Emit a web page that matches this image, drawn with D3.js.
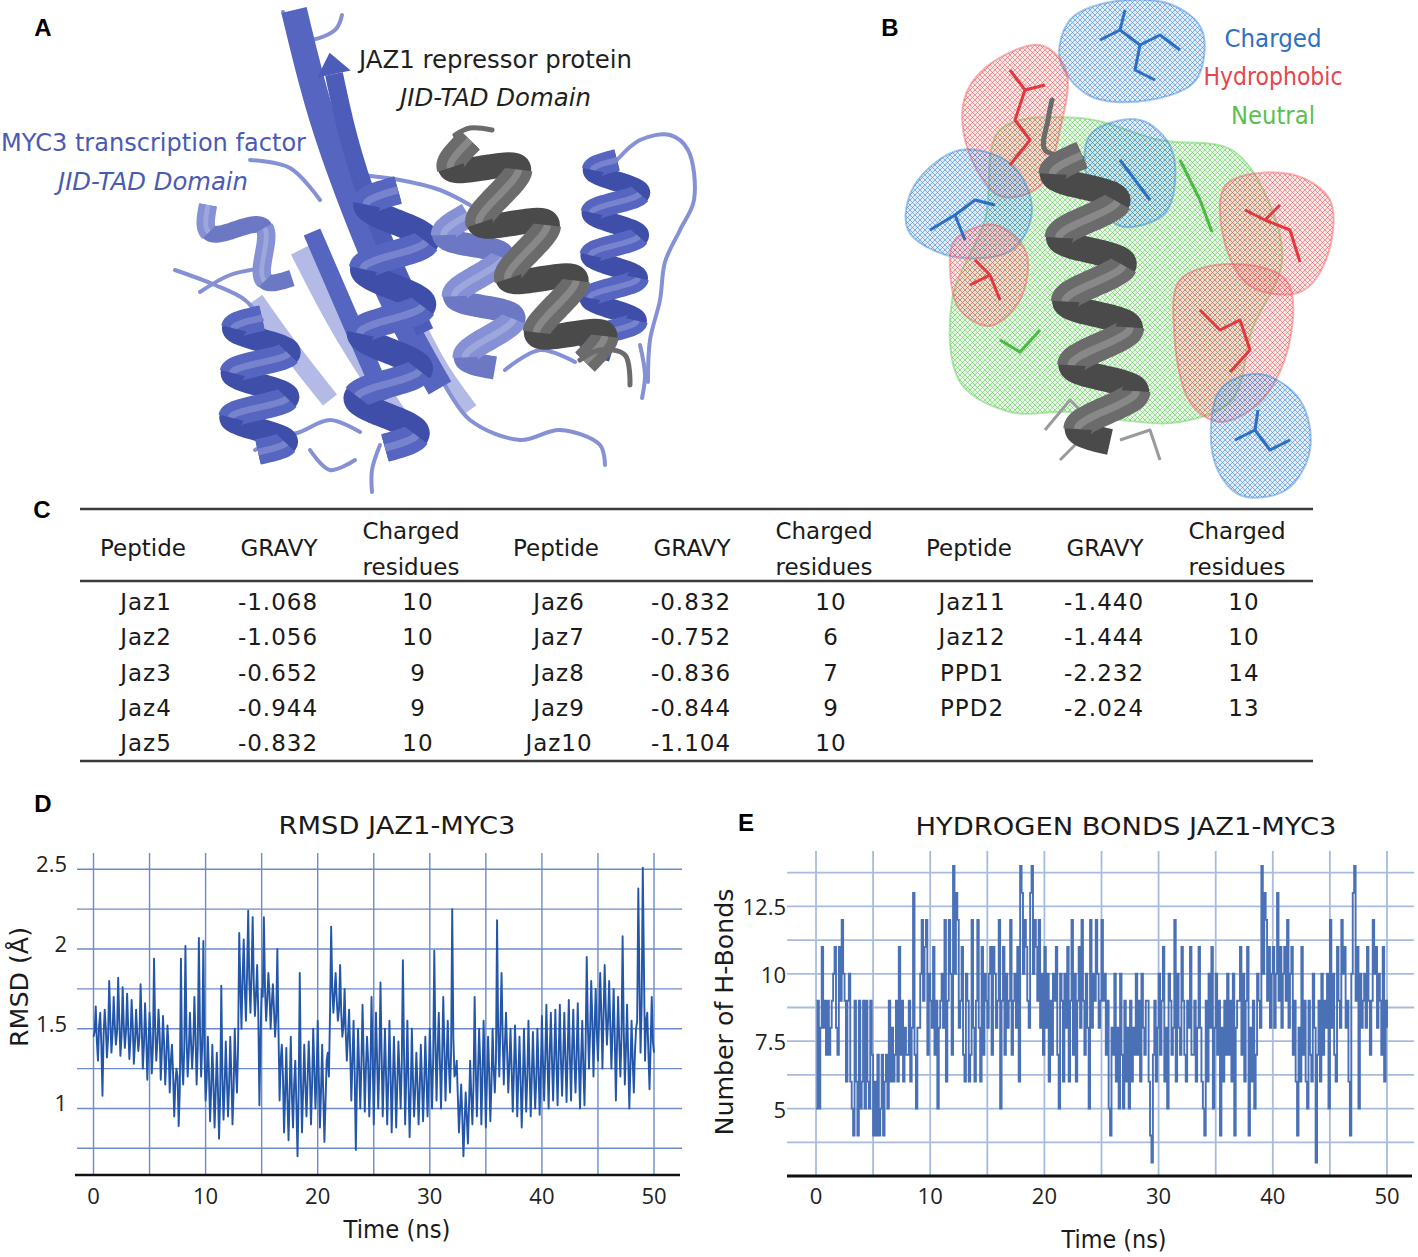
<!DOCTYPE html>
<html>
<head>
<meta charset="utf-8">
<script src="https://cdn.jsdelivr.net/npm/d3@7/dist/d3.min.js"></script>
<style>
  body { margin: 0; background: #fff; }
  svg { display: block; }
</style>
</head>
<body>
<div id="fig"></div>
<script>
// ---- data ----
// RMSD (Å): swing values every 0.2 ns, and the band core read half a step later
const rmsdStep = 0.2;
const rmsdValues = [
  1.45, 1.64, 1.30, 1.60, 1.08,  1.62, 1.32, 1.80, 1.35, 1.70,
  1.40, 1.82, 1.33, 1.76, 1.38,  1.72, 1.31, 1.68, 1.28, 1.62,
  1.36, 1.78, 1.25, 1.66, 1.18,  1.60, 1.22, 1.94, 1.30, 1.62,
  1.18, 1.58, 1.15, 1.52, 1.10,  1.40, 0.95, 1.25, 0.89, 1.94,
  1.15, 2.02, 1.20, 1.60, 1.25,  1.70, 1.15, 2.07, 1.20, 2.05,
  1.05, 1.45, 0.92, 1.40, 0.88,  1.35, 0.81, 1.77, 0.93, 1.42,
  0.95, 1.45, 0.90, 1.50, 1.10,  2.10, 1.50, 2.06, 1.55, 2.24,
  1.60, 2.20, 1.58, 1.90, 1.02,  1.75, 2.20, 1.55, 1.85, 1.50,
  1.78, 1.45, 2.00, 1.05, 1.40,  0.85, 1.38, 0.80, 1.45, 0.88,
  1.30, 0.70, 1.85, 0.85, 1.40,  0.95, 1.42, 0.90, 1.50, 1.00,
  1.55, 0.88, 1.40, 0.79, 1.30,  1.20, 2.14, 1.60, 1.85, 1.55,
  1.90, 1.45, 1.75, 1.30, 1.62,  1.05, 1.55, 0.74, 1.50, 1.00,
  1.65, 0.98, 1.45, 0.95, 1.70,  0.90, 1.60, 1.00, 1.79, 0.95,
  1.50, 0.90, 1.55, 0.85, 1.45,  0.88, 1.42, 1.00, 1.93, 0.90,
  1.55, 0.82, 1.50, 0.95, 1.35,  0.90, 1.40, 0.92, 1.45, 0.95,
  1.50, 1.00, 1.99, 1.05, 1.60,  1.00, 1.70, 1.05, 1.55, 1.10,
  2.25, 1.20, 1.30, 0.85, 1.15,  0.70, 1.10, 0.78, 1.30, 0.90,
  1.70, 0.95, 1.50, 0.90, 1.55,  0.88, 1.45, 0.92, 1.50, 1.10,
  2.18, 1.20, 1.85, 1.15, 1.60,  1.10, 1.50, 0.98, 1.52, 0.95,
  1.45, 0.88, 1.50, 0.98, 1.55,  0.95, 1.48, 1.00, 1.50, 0.96,
  1.58, 1.05, 1.65, 1.00, 1.60,  1.05, 1.62, 1.02, 1.65, 1.08,
  1.60, 1.04, 1.68, 1.05, 1.62,  1.10, 1.66, 1.00, 1.55, 1.02,
  1.95, 1.25, 1.80, 1.20, 1.75,  1.30, 1.85, 1.25, 1.90, 1.40,
  1.80, 1.25, 1.75, 1.05, 1.70,  1.20, 2.08, 1.15, 1.65, 1.00,
  1.55, 1.10, 1.50, 2.38, 1.35,  2.51, 1.30, 1.60, 1.12, 1.70,
  1.35
];
const rmsdCore = [
  1.48, 1.42, 1.52, 1.40, 1.46,  1.50, 1.44, 1.55, 1.47, 1.52,
  1.48, 1.56, 1.45, 1.52, 1.49,  1.50, 1.44, 1.52, 1.41, 1.47,
  1.45, 1.52, 1.40, 1.46, 1.38,  1.44, 1.38, 1.50, 1.42, 1.47,
  1.36, 1.40, 1.32, 1.38, 1.30,  1.22, 1.15, 1.20, 1.12, 1.30,
  1.38, 1.45, 1.35, 1.42, 1.40,  1.45, 1.38, 1.50, 1.40, 1.35,
  1.18, 1.22, 1.12, 1.16, 1.10,  1.12, 1.08, 1.20, 1.14, 1.18,
  1.15, 1.20, 1.12, 1.25, 1.40,  1.78, 1.82, 1.75, 1.85, 1.80,
  1.85, 1.78, 1.72, 1.60, 1.45,  1.70, 1.75, 1.68, 1.72, 1.65,
  1.62, 1.58, 1.50, 1.30, 1.20,  1.10, 1.05, 1.12, 1.08, 1.15,
  1.02, 1.10, 1.18, 1.12, 1.15,  1.18, 1.22, 1.15, 1.25, 1.20,
  1.20, 1.12, 1.08, 1.05, 1.35,  1.60, 1.75, 1.72, 1.68, 1.62,
  1.60, 1.52, 1.48, 1.45, 1.35,  1.30, 1.22, 1.15, 1.25, 1.28,
  1.32, 1.25, 1.30, 1.22, 1.35,  1.25, 1.30, 1.28, 1.35, 1.22,
  1.20, 1.18, 1.22, 1.15, 1.20,  1.15, 1.22, 1.28, 1.35, 1.20,
  1.15, 1.10, 1.18, 1.12, 1.15,  1.12, 1.18, 1.15, 1.20, 1.18,
  1.25, 1.30, 1.42, 1.35, 1.30,  1.32, 1.38, 1.30, 1.28, 1.35,
  1.45, 1.22, 1.08, 1.00, 0.95,  0.90, 0.95, 1.02, 1.08, 1.15,
  1.25, 1.22, 1.28, 1.20, 1.25,  1.18, 1.22, 1.15, 1.25, 1.30,
  1.48, 1.52, 1.45, 1.40, 1.35,  1.28, 1.25, 1.22, 1.28, 1.20,
  1.18, 1.15, 1.22, 1.20, 1.25,  1.20, 1.22, 1.18, 1.25, 1.22,
  1.28, 1.32, 1.30, 1.35, 1.30,  1.32, 1.28, 1.35, 1.30, 1.32,
  1.30, 1.35, 1.32, 1.38, 1.30,  1.35, 1.28, 1.32, 1.25, 1.40,
  1.52, 1.48, 1.55, 1.50, 1.48,  1.55, 1.60, 1.58, 1.62, 1.55,
  1.52, 1.48, 1.45, 1.40, 1.42,  1.45, 1.50, 1.38, 1.32, 1.28,
  1.30, 1.35, 1.55, 1.80, 1.65,  1.90, 1.55, 1.35, 1.40, 1.42
];

// number of H-bonds sampled every 0.125 ns
const hbondStep = 0.125;
const hbondValues = [
  5, 9, 5, 8, 11, 8, 9, 7,     9, 7, 8, 9, 10, 11, 8, 7,
  11, 9, 12, 10, 9, 6, 9, 10,  6, 5, 4, 9, 6, 4, 9, 5,
  6, 9, 5, 9, 6, 5, 9, 7,      4, 6, 4, 7, 4, 5, 7, 4,
  6, 7, 5, 9, 6, 8, 6, 7,      9, 6, 11, 7, 9, 6, 8, 7,
  7, 9, 6, 8, 13, 7, 5, 8,     8, 10, 12, 9, 11, 12, 7, 10,
  9, 8, 11, 7, 9, 5, 8, 9,     10, 8, 12, 6, 9, 12, 10, 7,
  14, 10, 13, 12, 8, 9, 11, 7, 6, 10, 9, 6, 7, 12, 8, 6,
  9, 12, 8, 6, 11, 7, 10, 9,   8, 10, 11, 7, 11, 10, 8, 9,
  12, 5, 9, 11, 7, 10, 8, 9,   12, 7, 9, 10, 8, 11, 6, 14,
  13, 10, 12, 11, 9, 8, 13, 14, 10, 12, 11, 9, 12, 8, 10, 7,
  11, 8, 10, 6, 9, 7, 10, 9,   11, 7, 5, 10, 9, 6, 10, 8,
  11, 6, 9, 12, 7, 10, 6, 9,   11, 8, 12, 9, 7, 10, 8, 5,
  12, 8, 10, 9, 12, 10, 8, 9,  12, 9, 10, 7, 9, 5, 4, 8,
  7, 10, 6, 8, 5, 10, 7, 5,    9, 6, 8, 5, 9, 6, 8, 7,
  10, 7, 9, 6, 10, 8, 7, 9,    9, 6, 4, 3, 7, 9, 6, 8,
  10, 7, 9, 11, 6, 8, 5, 10,   9, 7, 8, 12, 6, 10, 8, 7,
  11, 9, 7, 6, 9, 8, 11, 7,    7, 9, 6, 8, 11, 8, 6, 5,
  4, 9, 6, 10, 8, 11, 5, 8,    10, 7, 9, 4, 8, 6, 9, 7,
  10, 7, 9, 6, 10, 4, 8, 9,    9, 11, 7, 10, 6, 9, 11, 4,
  8, 6, 9, 5, 7, 10, 9, 8,     14, 10, 13, 12, 9, 11, 8, 10,
  11, 8, 10, 13, 9, 11, 8, 10, 11, 9, 12, 8, 10, 11, 7, 9,
  6, 4, 8, 6, 11, 7, 9, 6,     5, 9, 7, 6, 10, 8, 3, 7,
  9, 6, 10, 7, 9, 8, 10, 5,    12, 8, 10, 7, 6, 11, 9, 8,
  12, 10, 11, 8, 9, 6, 4, 10,  13, 14, 9, 11, 5, 10, 8, 9,
  10, 8, 11, 9, 7, 9, 12, 10,  11, 8, 10, 9, 7, 11, 6, 9,
  8
];

const timeTicks = [0, 10, 20, 30, 40, 50];
const timeGrid = [0, 5, 10, 15, 20, 25, 30, 35, 40, 45, 50];
const rmsdTicks = [1, 1.5, 2, 2.5];
const rmsdGrid = [0.75, 1, 1.25, 1.5, 1.75, 2, 2.25, 2.5];
const hbondTicks = [5, 7.5, 10, 12.5];
const hbondGrid = [3.75, 5, 6.25, 7.5, 8.75, 10, 11.25, 12.5, 13.75];

// table C
const peptides = ['Jaz1', 'Jaz2', 'Jaz3', 'Jaz4', 'Jaz5', 'Jaz6', 'Jaz7', 'Jaz8', 'Jaz9', 'Jaz10', 'Jaz11', 'Jaz12', 'PPD1', 'PPD2'];
const gravy = [-1.068, -1.056, -0.652, -0.944, -0.832, -0.832, -0.752, -0.836, -0.844, -1.104, -1.440, -1.444, -2.232, -2.024];
const charged = [10, 10, 9, 9, 10, 10, 6, 7, 9, 10, 10, 10, 14, 13];
const headerLabels = ['Peptide', 'GRAVY', 'Charged residues'];

// panel B legend
const legendLabels = ['Charged', 'Hydrophobic', 'Neutral'];
const legendColors = ['#2f6fc0', '#e3474c', '#5cbf4f'];

// ---- setup ----
const W = 1418, H = 1257;
const svg = d3.select('#fig').append('svg')
  .attr('width', W)
  .attr('height', H)
  .attr('viewBox', `0 0 ${W} ${H}`);

svg.append('rect').attr('width', W).attr('height', H).attr('fill', '#fff');
const defs = svg.append('defs');

const titleFont = '"DejaVu Sans", sans-serif';
const tickFont = '"Open Sans", "Noto Sans", sans-serif';

// ---- helpers for the structure sketches ----
function drawHelix(g, p0, p1, w, turns, col, dark) {
  const dx = p1[0] - p0[0], dy = p1[1] - p0[1];
  const L = Math.hypot(dx, dy);
  const nx = -dy / L, ny = dx / L;
  const n = Math.round(turns * 36);
  const pts = d3.range(n + 1).map(i => {
    const t = i / n, ph = 2 * Math.PI * turns * t;
    const off = (w / 2) * Math.sin(ph);
    return { x: p0[0] + dx * t + nx * off, y: p0[1] + dy * t + ny * off, front: Math.cos(ph) > 0 };
  });
  const line = d3.line().x(d => d.x).y(d => d.y).curve(d3.curveCatmullRom);
  g.append('path').attr('d', line(pts)).attr('fill', 'none')
    .attr('stroke', dark).attr('stroke-width', w * 0.42);
  let seg = [];
  pts.forEach((p, i) => {
    if (p.front) seg.push(p);
    if ((!p.front || i === pts.length - 1) && seg.length > 1) {
      g.append('path').attr('d', line(seg)).attr('fill', 'none')
        .attr('stroke', col).attr('stroke-width', w * 0.46);
      g.append('path').attr('d', line(seg)).attr('fill', 'none')
        .attr('stroke', '#fff').attr('stroke-opacity', 0.2).attr('stroke-width', w * 0.12);
      seg = [];
    } else if (!p.front) seg = [];
  });
}

function drawStrand(g, pts, w, col, head) {
  const line = d3.line().curve(d3.curveBasis);
  g.append('path').attr('d', line(pts)).attr('fill', 'none')
    .attr('stroke', col).attr('stroke-width', w).attr('stroke-linecap', 'butt');
  if (head) {
    const a = pts[0], b = pts[1];
    const L = Math.hypot(a[0] - b[0], a[1] - b[1]);
    const ux = (a[0] - b[0]) / L, uy = (a[1] - b[1]) / L, nx = -uy, ny = ux;
    const hw = w * 0.95, hl = w * 1.2;
    g.append('path')
      .attr('d', `M${a[0] + nx * hw},${a[1] + ny * hw} L${a[0] + ux * hl},${a[1] + uy * hl} L${a[0] - nx * hw},${a[1] - ny * hw} Z`)
      .attr('fill', col);
  }
}

function drawLoop(g, pts, col, w) {
  g.append('path').attr('d', d3.line().curve(d3.curveCatmullRom)(pts))
    .attr('fill', 'none').attr('stroke', col).attr('stroke-width', w)
    .attr('stroke-linecap', 'round').attr('stroke-linejoin', 'round');
}

// ---- panel A: cartoon sketch ----
const blue = '#5565c0', blueDark = '#3f4ea8', blueLight = '#8591d4', bluePale = '#b4bae6';
const grey = '#6b6b6b', greyDark = '#4a4a4a';
const pa = svg.append('g');

drawStrand(pa, [[300, 250], [340, 330], [400, 420]], 20, bluePale, false);
drawStrand(pa, [[255, 300], [290, 350], [330, 400]], 18, bluePale, false);
drawStrand(pa, [[420, 330], [440, 370], [470, 410]], 16, bluePale, false);

[
  [[283, 12], [300, 40], [335, 30], [342, 15]],
  [[175, 270], [215, 285], [245, 300], [262, 320]],
  [[200, 292], [230, 275], [262, 268]],
  [[250, 160], [290, 168], [320, 200]],
  [[360, 175], [400, 180], [440, 190], [470, 205]],
  [[617, 160], [640, 140], [670, 135], [688, 150], [694, 200], [680, 230], [665, 262], [660, 300], [650, 340], [648, 382]],
  [[445, 385], [470, 420], [520, 440], [560, 430], [600, 445], [605, 465]],
  [[505, 370], [540, 350], [575, 362]],
  [[380, 445], [372, 470], [372, 492]],
  [[255, 450], [275, 440], [300, 432], [330, 420], [360, 432]],
  [[640, 345], [645, 375], [642, 398]],
  [[310, 450], [330, 470], [355, 460]]
].forEach(p => drawLoop(pa, p, blueLight, 4));

drawHelix(pa, [208, 205], [292, 278], 40, 1.5, blueLight, '#6c78c4');
drawHelix(pa, [262, 318], [258, 452], 56, 3, blue, blueDark);
drawStrand(pa, [[294, 10], [318, 110], [350, 200], [395, 310], [440, 388]], 26, blue, false);
drawStrand(pa, [[334, 74], [350, 150], [382, 240], [425, 332]], 18, '#4c5cb8', true);
drawStrand(pa, [[312, 232], [350, 320], [385, 400]], 18, blue, false);
drawHelix(pa, [398, 190], [385, 448], 62, 4, blue, blueDark);
drawHelix(pa, [468, 215], [495, 368], 55, 2.5, blueLight, '#6c78c4');
drawHelix(pa, [617, 160], [612, 352], 48, 4.5, blue, blueDark);
drawHelix(pa, [470, 140], [585, 362], 60, 4, grey, greyDark);
drawLoop(pa, [[455, 135], [470, 128], [492, 130]], grey, 5);
drawLoop(pa, [[580, 360], [600, 350], [625, 355], [630, 385]], grey, 5);

const textA = [
  { t: 'JAZ1 repressor protein', x: 359, y: 60, len: 273, col: '#1f1f1f', it: false },
  { t: 'JID-TAD Domain', x: 400, y: 98, len: 191, col: '#1f1f1f', it: true },
  { t: 'MYC3 transcription factor', x: 1, y: 143, len: 305, col: '#4a5ab4', it: false },
  { t: 'JID-TAD Domain', x: 58, y: 182, len: 190, col: '#4a5ab4', it: true }
];
svg.selectAll('text.lblA')
  .data(textA)
  .join('text')
  .attr('class', 'lblA')
  .attr('x', d => d.x)
  .attr('y', d => d.y)
  .attr('dominant-baseline', 'central')
  .attr('font-family', titleFont)
  .attr('font-size', 24)
  .attr('font-style', d => d.it ? 'italic' : 'normal')
  .attr('fill', d => d.col)
  .attr('textLength', d => d.len)
  .attr('lengthAdjust', 'spacingAndGlyphs')
  .text(d => d.t);

// ---- panel B: surface mesh sketch ----
const meshCols = { blue: '#3a86d8', red: '#ee5a5f', green: '#5fcc55' };
Object.entries(meshCols).forEach(([k, c]) => {
  const p = defs.append('pattern').attr('id', `mesh-${k}`)
    .attr('width', 5).attr('height', 5).attr('patternUnits', 'userSpaceOnUse');
  p.append('rect').attr('width', 5).attr('height', 5).attr('fill', c).attr('fill-opacity', 0.15);
  p.append('path').attr('d', 'M0,0 L5,5 M5,0 L0,5').attr('stroke', c).attr('stroke-width', 0.8).attr('stroke-opacity', 0.75);
});

const blobs = [
  ['green', [[1000, 130], [1080, 118], [1160, 140], [1232, 150], [1268, 200], [1282, 262], [1252, 330], [1232, 400], [1180, 422], [1120, 420], [1070, 412], [1010, 412], [960, 382], [952, 300], [985, 220]]],
  ['blue', [[1090, 135], [1140, 120], [1172, 150], [1166, 212], [1120, 226], [1090, 190]]],
  ['blue', [[1070, 20], [1110, 2], [1170, 4], [1202, 30], [1196, 80], [1150, 100], [1090, 96], [1060, 60]]],
  ['red', [[985, 68], [1040, 45], [1066, 70], [1060, 130], [1040, 186], [1000, 196], [968, 150], [964, 100]]],
  ['blue', [[914, 186], [960, 150], [1012, 165], [1032, 210], [1012, 250], [950, 256], [908, 230]]],
  ['red', [[955, 240], [995, 225], [1026, 252], [1020, 300], [990, 326], [960, 310], [950, 270]]],
  ['red', [[1226, 185], [1290, 174], [1330, 200], [1326, 260], [1300, 292], [1250, 286], [1224, 240]]],
  ['red', [[1180, 280], [1230, 264], [1286, 280], [1290, 340], [1262, 400], [1220, 422], [1190, 402], [1174, 330]]],
  ['blue', [[1220, 390], [1260, 374], [1300, 400], [1310, 450], [1286, 490], [1240, 495], [1214, 460]]]
];
const pb = svg.append('g');
const closed = d3.line().curve(d3.curveCatmullRomClosed);
blobs.forEach(([k, pts]) => {
  pb.append('path').attr('d', closed(pts))
    .attr('fill', `url(#mesh-${k})`)
    .attr('stroke', meshCols[k]).attr('stroke-opacity', 0.45).attr('stroke-width', 2);
});

const sticks = [
  ['#2d6fc4', [[1100, 40], [1120, 30], [1140, 45], [1160, 35], [1180, 50]]],
  ['#2d6fc4', [[1120, 30], [1125, 10]]],
  ['#2d6fc4', [[1140, 45], [1135, 70], [1155, 80]]],
  ['#e0393f', [[1010, 70], [1025, 90], [1015, 120], [1030, 140], [1010, 165]]],
  ['#e0393f', [[1025, 90], [1045, 85]]],
  ['#2d6fc4', [[930, 230], [955, 215], [975, 200], [995, 205]]],
  ['#2d6fc4', [[955, 215], [965, 240]]],
  ['#2d6fc4', [[1120, 160], [1135, 180], [1150, 200]]],
  ['#e0393f', [[975, 260], [990, 275], [1000, 300]]],
  ['#e0393f', [[990, 275], [970, 285]]],
  ['#e0393f', [[1245, 210], [1265, 220], [1290, 230], [1300, 262]]],
  ['#e0393f', [[1265, 220], [1280, 205]]],
  ['#e0393f', [[1200, 310], [1220, 330], [1240, 320], [1250, 350], [1230, 372]]],
  ['#2d6fc4', [[1235, 440], [1255, 430], [1270, 450], [1290, 440]]],
  ['#2d6fc4', [[1255, 430], [1258, 410]]],
  ['#4cb845', [[1000, 340], [1020, 352], [1040, 330]]],
  ['#4cb845', [[1180, 160], [1200, 200], [1212, 232]]],
  ['#9a9a9a', [[1045, 430], [1070, 400], [1090, 420], [1120, 410]]],
  ['#9a9a9a', [[1060, 460], [1080, 440]]],
  ['#9a9a9a', [[1120, 440], [1150, 430], [1160, 460]]]
];
sticks.forEach(([c, pts]) => {
  pb.append('path').attr('d', d3.line()(pts)).attr('fill', 'none')
    .attr('stroke', c).attr('stroke-width', 3).attr('stroke-linejoin', 'round');
});
drawLoop(pb, [[1082, 158], [1045, 150], [1048, 120], [1052, 100]], grey, 5);
drawHelix(pb, [1082, 155], [1110, 442], 62, 4.5, grey, greyDark);

svg.selectAll('text.legB')
  .data(legendLabels)
  .join('text')
  .attr('class', 'legB')
  .attr('x', 1273)
  .attr('y', (d, i) => 38 + i * 38.5)
  .attr('text-anchor', 'middle')
  .attr('dominant-baseline', 'central')
  .attr('font-family', titleFont)
  .attr('font-size', 25)
  .attr('fill', (d, i) => legendColors[i])
  .attr('textLength', (d, i) => [97, 139, 84][i])
  .attr('lengthAdjust', 'spacingAndGlyphs')
  .text(d => d);

// panel letters (on top of the sketches)
const panelLetters = [['A', 43, 27], ['B', 890, 27], ['C', 42, 509], ['D', 43, 803], ['E', 746, 822]];
svg.selectAll('text.panel')
  .data(panelLetters)
  .join('text')
  .attr('class', 'panel')
  .attr('x', d => d[1])
  .attr('y', d => d[2])
  .attr('text-anchor', 'middle')
  .attr('dominant-baseline', 'central')
  .attr('font-family', '"Liberation Sans", Arial, sans-serif')
  .attr('font-weight', 'bold')
  .attr('font-size', 24)
  .attr('fill', '#000')
  .text(d => d[0]);

// ---- panel C: table ----
const tbl = svg.append('g').attr('font-family', titleFont).attr('fill', '#1a1a1a');
const groupX = d3.scaleLinear().domain([0, 2]).range([0, 826]);
const rowY = d3.scaleLinear().domain([0, 4]).range([602, 743]);
const dataCol = [146, 278, 418];
const headCol = [143, 279, 411];
const fmt = d3.formatLocale({ decimal: '.', thousands: ',', grouping: [3], currency: ['', ''], minus: '-' }).format('.3f');

[509, 581, 761].forEach(y => {
  tbl.append('line').attr('x1', 80).attr('x2', 1313).attr('y1', y).attr('y2', y)
    .attr('stroke', '#3a3a3a').attr('stroke-width', 2.5);
});

d3.range(3).forEach(g => {
  headerLabels.forEach((h, c) => {
    const parts = h === 'Charged residues' ? ['Charged', 'residues'] : [h];
    parts.forEach((p, k) => {
      tbl.append('text')
        .attr('x', groupX(g) + headCol[c])
        .attr('y', parts.length === 1 ? 548 : (k === 0 ? 531 : 567))
        .attr('text-anchor', 'middle')
        .attr('dominant-baseline', 'central')
        .attr('font-size', 23)
        .text(p);
    });
  });
});

peptides.forEach((p, i) => {
  const g = Math.floor(i / 5), r = i % 5;
  const cells = [p, fmt(gravy[i]), String(charged[i])];
  cells.forEach((t, c) => {
    tbl.append('text')
      .attr('x', groupX(g) + dataCol[c])
      .attr('y', rowY(r))
      .attr('text-anchor', 'middle')
      .attr('dominant-baseline', 'central')
      .attr('font-size', 23)
      .attr('letter-spacing', 1)
      .text(t);
  });
});

// ---- panel D: RMSD ----
const xD = d3.scaleLinear().domain([0, 50]).range([93.5, 654]);
const yD = d3.scaleLinear().domain([0.75, 2.5]).range([1148.3, 869.3]);
const dTop = 853, dBottom = 1175;
const gD = svg.append('g');

// swing and core readings merged in time order
const rmsdSeries = [];
rmsdValues.forEach((v, i) => {
  rmsdSeries.push({ t: i * rmsdStep, v });
  if (i < rmsdCore.length) rmsdSeries.push({ t: (i + 0.5) * rmsdStep, v: rmsdCore[i] });
});

gD.selectAll('line.vg').data(timeGrid).join('line')
  .attr('x1', d => xD(d)).attr('x2', d => xD(d))
  .attr('y1', dTop).attr('y2', dBottom)
  .attr('stroke', '#6b8cc8').attr('stroke-width', 1.4);
gD.selectAll('line.hg').data(rmsdGrid).join('line')
  .attr('x1', 77).attr('x2', 682)
  .attr('y1', d => yD(d)).attr('y2', d => yD(d))
  .attr('stroke', '#6b8cc8').attr('stroke-width', 1.4);

gD.append('path')
  .datum(rmsdSeries)
  .attr('fill', 'none')
  .attr('stroke', '#2356a8')
  .attr('stroke-width', 1.9)
  .attr('stroke-linejoin', 'round')
  .attr('d', d3.line().x(d => xD(d.t)).y(d => yD(d.v)));

gD.append('line').attr('x1', 75).attr('x2', 680).attr('y1', dBottom).attr('y2', dBottom)
  .attr('stroke', '#111').attr('stroke-width', 2.5);

gD.selectAll('text.xt').data(timeTicks).join('text')
  .attr('x', d => xD(d)).attr('y', 1195)
  .attr('text-anchor', 'middle').attr('dominant-baseline', 'central')
  .attr('font-family', tickFont).attr('font-size', 22).attr('fill', '#222')
  .text(d => d);
gD.selectAll('text.yt').data(rmsdTicks).join('text')
  .attr('x', 67).attr('y', d => yD(d) - 6)
  .attr('text-anchor', 'end').attr('dominant-baseline', 'central')
  .attr('font-family', tickFont).attr('font-size', 22).attr('fill', '#222')
  .text(d => d);

gD.append('text').attr('x', 397).attr('y', 826)
  .attr('text-anchor', 'middle').attr('dominant-baseline', 'central')
  .attr('font-family', titleFont).attr('font-size', 24).attr('fill', '#1a1a1a')
  .attr('textLength', 237).attr('lengthAdjust', 'spacingAndGlyphs')
  .text('RMSD JAZ1-MYC3');
gD.append('text').attr('x', 397).attr('y', 1230)
  .attr('text-anchor', 'middle').attr('dominant-baseline', 'central')
  .attr('font-family', titleFont).attr('font-size', 24).attr('fill', '#1a1a1a')
  .attr('textLength', 107).attr('lengthAdjust', 'spacingAndGlyphs')
  .text('Time (ns)');
gD.append('text').attr('transform', 'translate(20,987) rotate(-90)')
  .attr('text-anchor', 'middle').attr('dominant-baseline', 'central')
  .attr('font-family', titleFont).attr('font-size', 24).attr('fill', '#1a1a1a')
  .attr('textLength', 120).attr('lengthAdjust', 'spacingAndGlyphs')
  .text('RMSD (Å)');

// ---- panel E: hydrogen bonds ----
const xE = d3.scaleLinear().domain([0, 50]).range([816, 1387]);
const yE = d3.scaleLinear().domain([3.75, 13.75]).range([1142.3, 872.7]);
const eTop = 851, eBottom = 1176;
const gE = svg.append('g');

gE.selectAll('line.vg').data(timeGrid).join('line')
  .attr('x1', d => xE(d)).attr('x2', d => xE(d))
  .attr('y1', eTop).attr('y2', eBottom)
  .attr('stroke', '#a7bcdd').attr('stroke-width', 1.8);
gE.selectAll('line.hg').data(hbondGrid).join('line')
  .attr('x1', 787).attr('x2', 1414)
  .attr('y1', d => yE(d)).attr('y2', d => yE(d))
  .attr('stroke', '#a7bcdd').attr('stroke-width', 1.8);

gE.append('path')
  .datum(hbondValues)
  .attr('fill', 'none')
  .attr('stroke', '#4a70b6')
  .attr('stroke-width', 1.9)
  .attr('d', d3.line().curve(d3.curveStepAfter).x((d, i) => xE(i * hbondStep)).y(d => yE(d)));

gE.append('line').attr('x1', 787).attr('x2', 1412).attr('y1', eBottom).attr('y2', eBottom)
  .attr('stroke', '#111').attr('stroke-width', 3);

gE.selectAll('text.xt').data(timeTicks).join('text')
  .attr('x', d => xE(d)).attr('y', 1195)
  .attr('text-anchor', 'middle').attr('dominant-baseline', 'central')
  .attr('font-family', tickFont).attr('font-size', 22).attr('fill', '#222')
  .text(d => d);
gE.selectAll('text.yt').data(hbondTicks).join('text')
  .attr('x', 786).attr('y', d => yE(d))
  .attr('text-anchor', 'end').attr('dominant-baseline', 'central')
  .attr('font-family', tickFont).attr('font-size', 22).attr('fill', '#222')
  .text(d => d);

gE.append('text').attr('x', 1126).attr('y', 827)
  .attr('text-anchor', 'middle').attr('dominant-baseline', 'central')
  .attr('font-family', titleFont).attr('font-size', 24).attr('fill', '#1a1a1a')
  .attr('textLength', 421).attr('lengthAdjust', 'spacingAndGlyphs')
  .text('HYDROGEN BONDS JAZ1-MYC3');
gE.append('text').attr('x', 1114).attr('y', 1240)
  .attr('text-anchor', 'middle').attr('dominant-baseline', 'central')
  .attr('font-family', titleFont).attr('font-size', 24).attr('fill', '#1a1a1a')
  .attr('textLength', 105).attr('lengthAdjust', 'spacingAndGlyphs')
  .text('Time (ns)');
gE.append('text').attr('transform', 'translate(725,1012) rotate(-90)')
  .attr('text-anchor', 'middle').attr('dominant-baseline', 'central')
  .attr('font-family', titleFont).attr('font-size', 24).attr('fill', '#1a1a1a')
  .attr('textLength', 247).attr('lengthAdjust', 'spacingAndGlyphs')
  .text('Number of H-Bonds');
</script>
</body>
</html>
